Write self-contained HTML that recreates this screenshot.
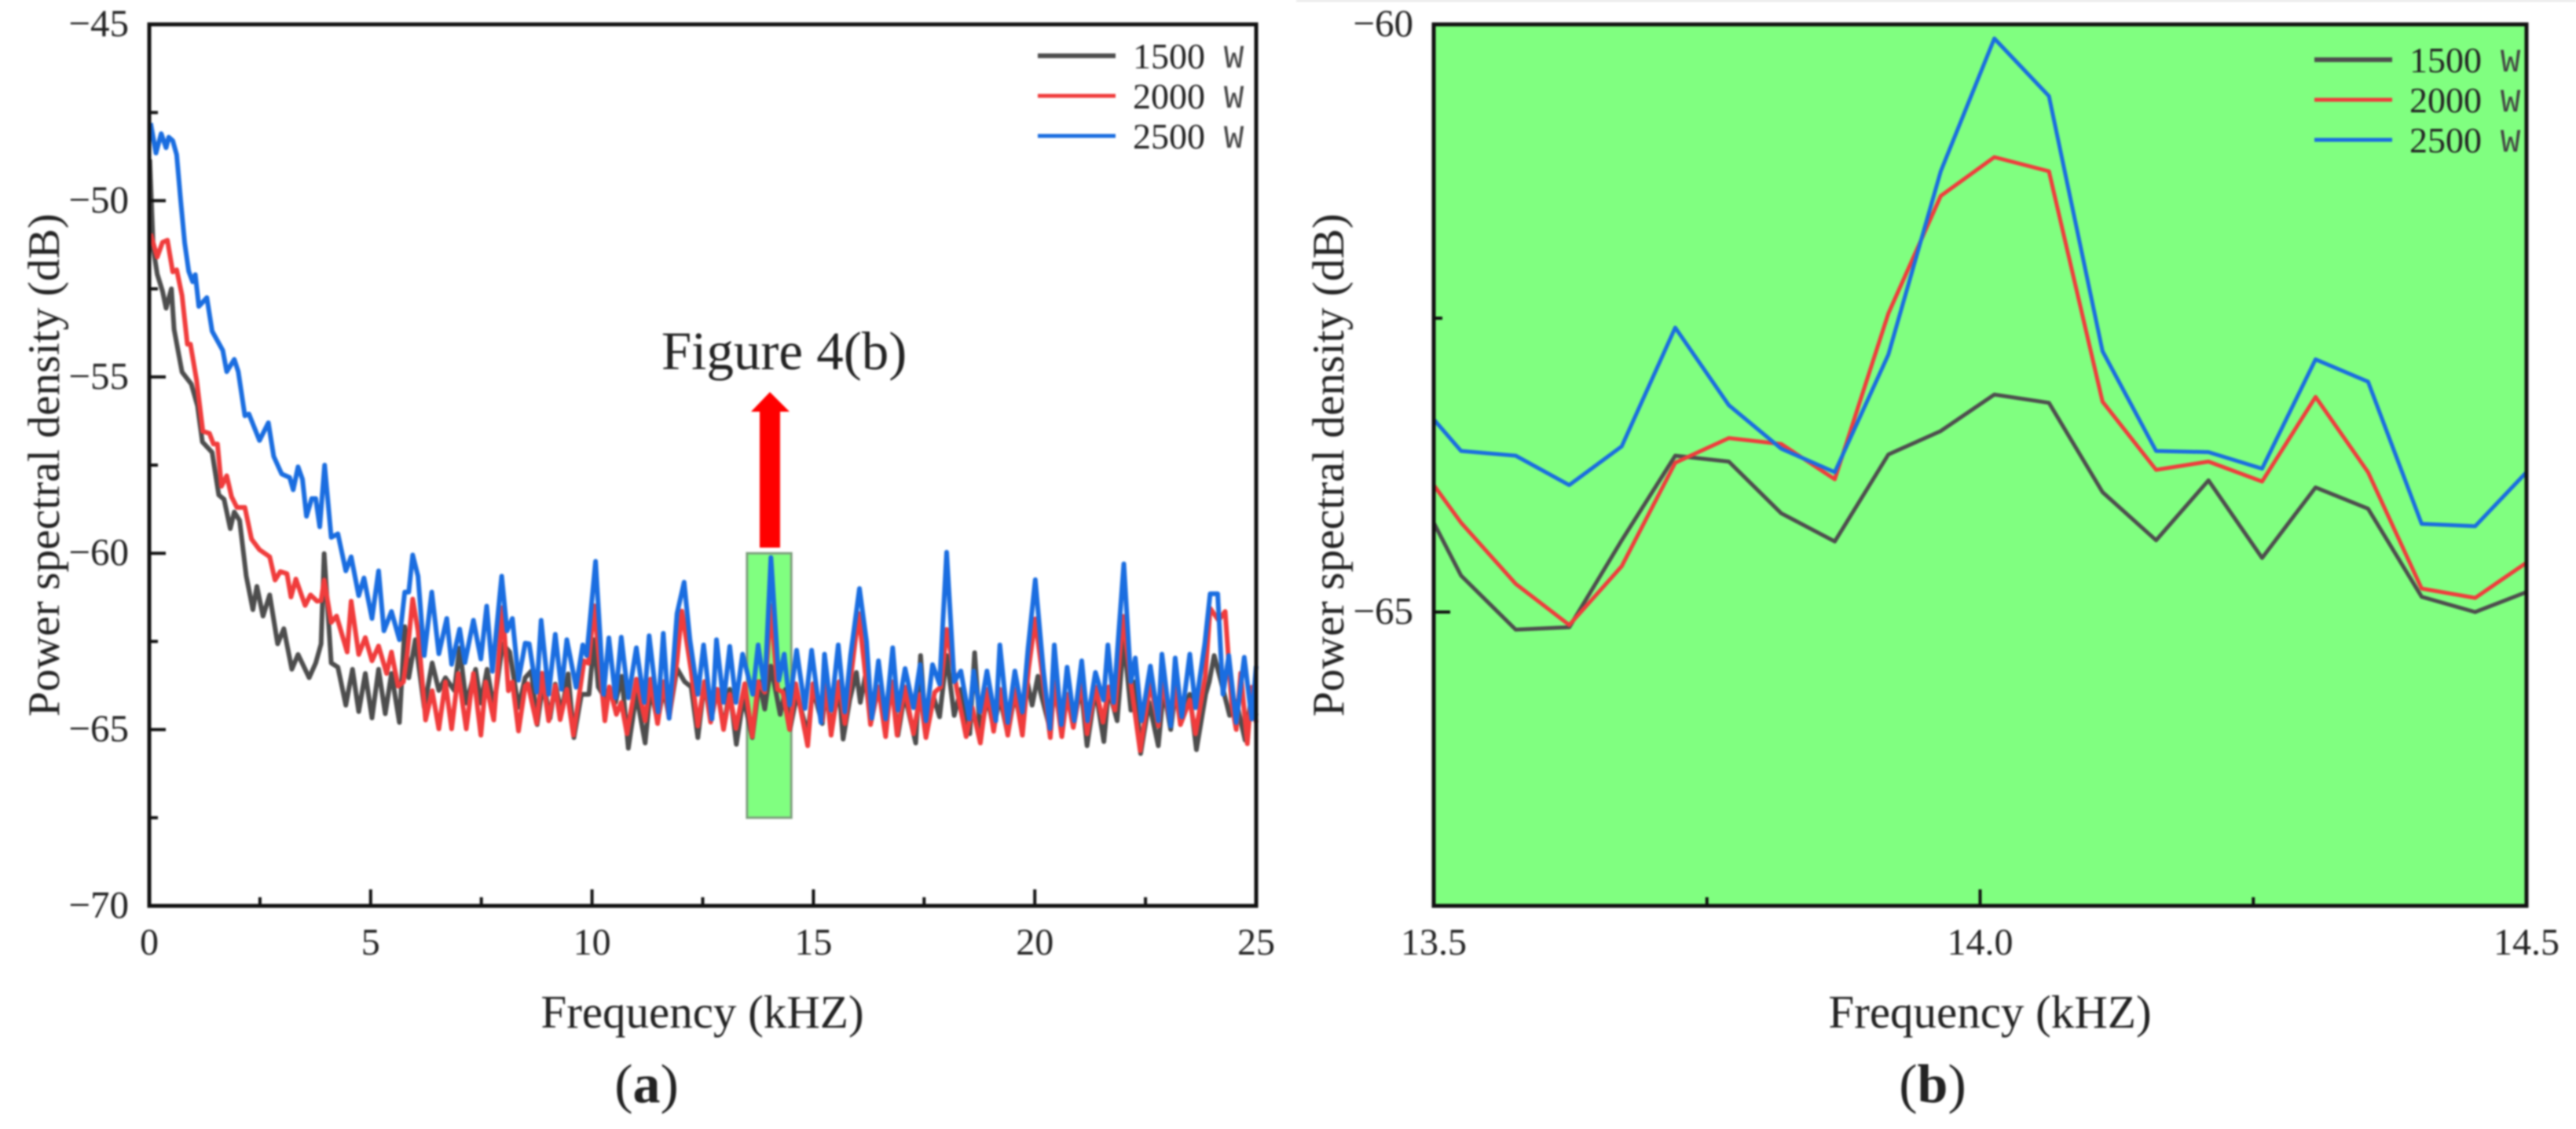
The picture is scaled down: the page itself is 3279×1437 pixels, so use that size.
<!DOCTYPE html>
<html lang="en">
<head>
<meta charset="utf-8">
<title>Power spectral density figure</title>
<style>
html,body{margin:0;padding:0;background:#fff;}
svg{display:block;filter:blur(1px);}
text{font-family:"Liberation Serif",serif;fill:#222;}
</style>
</head>
<body>
<svg id="fig" xmlns="http://www.w3.org/2000/svg" width="3279" height="1437" viewBox="0 0 3279 1437">
<rect x="0" y="0" width="3279" height="1437" fill="#fff"/>
<rect x="1650" y="0" width="1629" height="2" fill="#e2e2e2"/>
<g id="panelA"></g>
<g id="panelB"></g>
<text x="998" y="470" font-size="69" text-anchor="middle">Figure 4(b)</text>
<polygon points="980,499 1005,524 993,524 993,697 967,697 967,524 956,524" fill="#ff0000"/>
<text x="823" y="1403" font-size="70" text-anchor="middle">(<tspan font-weight="bold">a</tspan>)</text>
<text x="2460" y="1403" font-size="70" text-anchor="middle">(<tspan font-weight="bold">b</tspan>)</text>
</svg>
<script>
const freqA1500=[0.01,0.09,0.18,0.3,0.38,0.5,0.56,0.74,0.95,1.09,1.2,1.42,1.57,1.69,1.83,1.92,2.04,2.19,2.34,2.43,2.57,2.72,2.9,3.04,3.22,3.36,3.61,3.76,3.88,3.95,4.11,4.26,4.44,4.59,4.73,4.88,5.03,5.18,5.33,5.47,5.65,5.77,5.86,6.01,6.21,6.39,6.54,6.69,6.89,7.01,7.16,7.37,7.49,7.63,7.78,7.98,8.14,8.34,8.49,8.63,8.76,8.9,9.05,9.17,9.31,9.46,9.59,9.76,9.93,10.05,10.14,10.29,10.38,10.53,10.67,10.82,11.0,11.2,11.32,11.48,11.62,11.74,11.92,12.09,12.24,12.39,12.54,12.68,12.83,12.97,13.11,13.26,13.42,13.62,13.78,13.9,14.04,14.25,14.37,14.47,14.63,14.87,14.99,15.2,15.28,15.4,15.58,15.67,15.82,15.97,16.06,16.17,16.29,16.47,16.61,16.76,16.91,17.06,17.31,17.42,17.54,17.72,17.85,18.01,18.18,18.33,18.53,18.64,18.77,18.93,19.07,19.21,19.39,19.55,19.69,19.83,19.94,20.07,20.13,20.34,20.45,20.6,20.73,20.87,21.05,21.18,21.37,21.56,21.67,21.86,22.01,22.17,22.27,22.39,22.58,22.79,22.91,23.07,23.17,23.29,23.5,23.65,23.86,23.94,24.05,24.2,24.4,24.55,24.75,24.9,25];
const powerA1500=[-48.83,-51.36,-52.08,-52.57,-53.05,-52.5,-53.65,-54.86,-55.2,-55.82,-56.84,-57.14,-58.35,-58.47,-59.3,-58.83,-59.07,-60.64,-61.6,-60.94,-61.78,-61.18,-62.57,-62.14,-63.29,-62.87,-63.53,-63.11,-62.57,-60.01,-63.11,-63.23,-64.31,-63.29,-64.49,-63.41,-64.67,-63.29,-64.55,-63.41,-64.8,-62.08,-63.53,-62.45,-64.37,-63.11,-63.89,-63.53,-63.89,-62.69,-64.25,-63.29,-64.25,-63.29,-64.37,-62.57,-62.8,-64.37,-63.53,-63.34,-64.86,-63.64,-64.68,-63.71,-64.53,-63.42,-65.23,-64,-64,-62.45,-63.79,-64.1,-63.86,-64.23,-63.49,-65.53,-64,-65.38,-63.86,-64.75,-63.86,-64.64,-63.27,-63.64,-63.79,-65.23,-63.64,-64.75,-63.86,-64.97,-63.86,-65.42,-64.1,-65.23,-63.64,-64.42,-63.2,-64.57,-63.86,-65,-64,-65.12,-63.86,-64.83,-63.86,-64.97,-63.86,-65.27,-64.16,-63.38,-64.23,-63.49,-64.75,-63.86,-64.75,-63.64,-65.16,-64,-65.38,-62.9,-65.05,-64.1,-64.64,-62.9,-64.6,-63.86,-65.12,-62.82,-65.12,-64.1,-64.97,-64.1,-65.12,-64,-64.83,-63.64,-64.31,-63.49,-63.94,-64.97,-63.86,-64.83,-64,-64.75,-63.86,-65.46,-63.86,-65.34,-63.86,-64.75,-62.45,-64.45,-63.64,-65.68,-64.23,-65.46,-63.86,-65,-64,-64.6,-64,-65.57,-64,-63.64,-62.9,-63.6,-64.6,-64.2,-65.3,-64,-64.6];
const freqA2000=[0.03,0.18,0.3,0.41,0.53,0.62,0.74,0.86,0.93,1.07,1.21,1.36,1.45,1.54,1.63,1.75,1.86,1.98,2.16,2.31,2.49,2.72,2.84,2.96,3.11,3.2,3.31,3.52,3.64,3.79,3.88,3.95,4.11,4.23,4.47,4.56,4.73,4.88,5.03,5.18,5.36,5.47,5.62,5.74,5.83,5.95,6.07,6.24,6.39,6.54,6.69,6.83,6.98,7.16,7.32,7.49,7.6,7.78,7.98,8.11,8.2,8.34,8.49,8.55,8.75,8.87,9.02,9.17,9.28,9.43,9.58,9.82,9.92,10.05,10.29,10.39,10.55,10.66,10.79,11.0,11.2,11.32,11.48,11.62,11.74,11.92,12.03,12.24,12.39,12.54,12.68,12.83,12.97,13.11,13.25,13.45,13.62,13.75,13.9,14.04,14.19,14.31,14.46,14.6,14.87,14.99,15.2,15.28,15.4,15.58,15.71,15.87,16.02,16.14,16.29,16.47,16.63,16.76,16.89,17.06,17.26,17.41,17.54,17.74,17.88,18.01,18.24,18.45,18.59,18.77,18.93,19.07,19.21,19.39,19.55,19.72,19.86,20.01,20.19,20.35,20.44,20.61,20.73,20.87,21.06,21.18,21.37,21.54,21.67,21.81,21.99,22.19,22.38,22.61,22.79,22.88,23.07,23.17,23.29,23.5,23.63,23.85,23.96,24.15,24.3,24.45,24.55,24.65,24.8,24.9,25];
const powerA2000=[-50.94,-51.6,-51.18,-51.12,-52.02,-51.96,-52.69,-54.07,-54.07,-55.1,-56.54,-56.6,-56.9,-56.9,-58.1,-57.8,-58.4,-58.7,-58.7,-59.6,-59.9,-60.1,-60.76,-60.52,-60.58,-61.24,-60.73,-61.48,-61.18,-61.36,-61.34,-60.76,-61.96,-61.78,-62.8,-61.36,-62.87,-62.39,-63.05,-62.63,-63.41,-62.8,-63.77,-63.65,-62.8,-61.3,-62.2,-64.73,-63.9,-64.98,-63.65,-64.98,-63.41,-64.98,-63.41,-65.16,-63.65,-64.73,-61.54,-63.9,-63.65,-65.04,-63.77,-63.7,-64.83,-63.4,-64.75,-63.75,-64.72,-63.86,-65.16,-63.05,-63.12,-61.49,-64.75,-63.79,-64.57,-64.23,-65.12,-63.57,-64.75,-63.57,-64.83,-63.64,-64.68,-63.05,-61.64,-63.34,-64.9,-63.64,-64.79,-63.86,-65,-64,-64.97,-63.7,-65.2,-63.64,-63.94,-61.49,-63.86,-63.94,-65,-63.7,-65.46,-63.7,-64.75,-63.64,-65.16,-63.64,-64.83,-63.27,-61.71,-63.05,-64.86,-63.79,-65.2,-63.64,-65.16,-63.79,-65.12,-64,-65.23,-63.94,-63.79,-62.16,-63.86,-65.2,-64.38,-65.38,-63.86,-65.05,-63.86,-65.16,-63.86,-65.16,-63.27,-61.86,-63.64,-65.23,-63.64,-65.2,-64,-64.94,-63.64,-65.12,-63.79,-64.79,-63.79,-64.45,-61.79,-63.86,-65.6,-63.64,-64.9,-63.64,-64.83,-63.79,-64.86,-64.16,-65.12,-63.49,-61.56,-61.9,-61.65,-64.3,-65,-63.4,-65.4,-63.8,-64.8];
const freqA2500=[0.03,0.15,0.27,0.38,0.44,0.53,0.62,0.71,0.8,0.89,0.98,1.04,1.12,1.3,1.42,1.66,1.75,1.92,2.01,2.16,2.25,2.49,2.69,2.81,2.99,3.17,3.25,3.36,3.46,3.55,3.67,3.76,3.85,3.96,4.11,4.26,4.44,4.56,4.73,4.85,5.03,5.18,5.3,5.47,5.65,5.77,5.86,5.95,6.07,6.21,6.38,6.54,6.72,6.83,7.01,7.13,7.32,7.49,7.62,7.75,7.96,8.08,8.2,8.34,8.49,8.58,8.75,8.85,9.02,9.17,9.31,9.43,9.64,9.79,9.88,10.08,10.26,10.38,10.53,10.66,10.82,11.0,11.18,11.29,11.49,11.61,11.74,11.92,12.08,12.21,12.39,12.52,12.71,12.81,12.97,13.11,13.25,13.4,13.63,13.75,13.9,14.04,14.22,14.34,14.46,14.62,14.81,14.96,15.17,15.25,15.4,15.56,15.71,15.84,16.04,16.2,16.32,16.47,16.63,16.79,16.91,17.07,17.26,17.41,17.54,17.69,17.85,18.01,18.18,18.33,18.52,18.62,18.76,18.92,19.12,19.21,19.39,19.55,19.72,19.85,20.01,20.19,20.34,20.44,20.6,20.73,20.89,21.06,21.19,21.37,21.55,21.65,21.78,22.01,22.17,22.27,22.41,22.61,22.79,22.87,23.07,23.17,23.32,23.5,23.63,23.84,23.96,24.13,24.25,24.38,24.55,24.73,24.9,25];
const powerA2500=[-47.8,-48.65,-48.1,-48.5,-48.2,-48.3,-48.7,-50,-51.2,-52,-52.3,-52.1,-53,-52.75,-53.7,-54.25,-54.85,-54.5,-54.85,-56.1,-56.05,-56.8,-56.3,-57.25,-57.75,-57.85,-58.2,-57.55,-57.9,-58.95,-58.45,-58.45,-59.25,-57.5,-59.55,-59.45,-60.5,-60.1,-61.2,-60.7,-61.85,-60.5,-62.2,-61.65,-62.45,-61.1,-61.1,-60.05,-60.65,-62.9,-61.1,-62.85,-61.85,-63.15,-62.15,-63.1,-61.9,-63,-61.5,-63.35,-60.65,-62.2,-61.85,-63.6,-62.55,-62.57,-63.94,-61.9,-64,-62.3,-63.86,-62.45,-63.8,-62.6,-62.9,-60.23,-64,-62.4,-64.1,-62.38,-64.1,-62.68,-64.23,-62.34,-64.5,-62.27,-64.68,-61.71,-60.82,-62.45,-64,-62.6,-64.7,-62.45,-64.23,-62.64,-64.23,-62.86,-64,-62.6,-63.86,-60.12,-63.6,-62.86,-64.3,-62.75,-64.4,-62.75,-64.8,-62.86,-64.45,-62.6,-64.5,-62.9,-61,-62.5,-64.68,-63.05,-64.7,-62.68,-64.45,-63.27,-64.38,-63.16,-64.75,-63.16,-63.71,-59.97,-63.64,-63.34,-64.7,-63.34,-64.5,-63.34,-64.75,-62.6,-64.8,-63.34,-64.5,-62.68,-60.75,-63.27,-64.97,-62.6,-64.86,-63.23,-64.75,-63.05,-64.75,-63.38,-64.16,-62.6,-64.23,-60.3,-63.64,-62.97,-64.75,-63.2,-64.75,-62.86,-64.9,-62.97,-64.64,-62.86,-64.38,-62.56,-61.15,-61.15,-64,-62.9,-64.8,-62.95,-64.7,-63.2];
const freqB=[13.5,13.525,13.575,13.624,13.672,13.721,13.77,13.818,13.867,13.916,13.964,14.013,14.063,14.112,14.161,14.209,14.258,14.307,14.355,14.404,14.453,14.5];
const powerB1500=[-64.24,-64.69,-65.15,-65.13,-64.39,-63.67,-63.72,-64.16,-64.4,-63.66,-63.46,-63.15,-63.22,-63.98,-64.39,-63.88,-64.54,-63.94,-64.12,-64.87,-65,-64.83];
const powerB2000=[-63.92,-64.24,-64.76,-65.11,-64.61,-63.73,-63.52,-63.57,-63.87,-62.46,-61.46,-61.13,-61.25,-63.21,-63.79,-63.72,-63.89,-63.17,-63.81,-64.8,-64.88,-64.58];
const powerB2500=[-63.36,-63.63,-63.67,-63.92,-63.59,-62.58,-63.24,-63.61,-63.81,-62.81,-61.25,-60.12,-60.61,-62.78,-63.63,-63.64,-63.78,-62.85,-63.04,-64.25,-64.27,-63.81];
const legendLabels=["1500","2000","2500"];
const seriesColors=["#4d4d4d","#f03c3c","#1a6de0"];
const xTicksA=[0,5,10,15,20,25];
const xMinorA=[2.5,7.5,12.5,17.5,22.5];
const yTicksA=[-45,-50,-55,-60,-65,-70];
const yMinorA=[-47.5,-52.5,-57.5,-62.5,-67.5];
const xTicksB=[13.5,14,14.5];
const xMinorB=[13.75,14.25];
const yTicksB=[-60,-65];
const yMinorB=[-62.5,-67.5];
const boxRange=[13.5,14.5,-60,-67.5];

const NS="http://www.w3.org/2000/svg";
function mk(parent,tag,attrs,txt){
  const el=document.createElementNS(NS,tag);
  for(const k in attrs){el.setAttribute(k,attrs[k]);}
  if(txt!==undefined){el.textContent=txt;}
  parent.appendChild(el);
  return el;
}
function scale(d0,d1,r0,r1){return v=>r0+(v-d0)*(r1-r0)/(d1-d0);}
function minus(v){return v<0?"\u2212"+Math.abs(v):String(v);}

function drawPanel(cfg){
  const g=cfg.group,x=cfg.x,y=cfg.y;
  const L=cfg.left,R=cfg.right,T=cfg.top,B=cfg.bottom;
  const bg=mk(g,"rect",{x:L,y:T,width:R-L,height:B-T,fill:cfg.bg});
  
  
  if(cfg.box){
    const bx=mk(g,"rect",{x:x(boxRange[0]),y:y(boxRange[2]),width:x(boxRange[1])-x(boxRange[0]),height:y(boxRange[3])-y(boxRange[2]),fill:"#80ff80",stroke:"#7fa07f","stroke-width":3});
    
    
  }
  cfg.series.forEach((s,i)=>{
    const pts=s.f.map((f,j)=>x(f).toFixed(1)+","+y(s.p[j]).toFixed(1)).join(" ");
    const ln=mk(g,"polyline",{points:pts,fill:"none",stroke:seriesColors[i],"stroke-width":cfg.lw,"stroke-linejoin":"round"});
    
    
  });
  const frame=mk(g,"rect",{x:L,y:T,width:R-L,height:B-T,fill:"none",stroke:"#111","stroke-width":5});
  
  
  cfg.xMajor.forEach(v=>{
    const t=mk(g,"line",{x1:x(v),x2:x(v),y1:B,y2:B-21,stroke:"#111","stroke-width":4});
    
    
    const lb=mk(g,"text",{x:x(v),y:cfg.xLabelY,"font-size":48,"text-anchor":"middle"},cfg.fmtX(v));
    
    
  });
  cfg.xMinor.forEach(v=>{
    const t=mk(g,"line",{x1:x(v),x2:x(v),y1:B,y2:B-11,stroke:"#111","stroke-width":4});
    
    
  });
  cfg.yMajor.forEach(v=>{
    const t=mk(g,"line",{x1:L,x2:L+21,y1:y(v),y2:y(v),stroke:"#111","stroke-width":4});
    
    
    const lb=mk(g,"text",{x:L-26,y:y(v)+15,"font-size":49,"text-anchor":"end"},minus(v));
    
    
  });
  cfg.yMinor.forEach(v=>{
    const t=mk(g,"line",{x1:L,x2:L+11,y1:y(v),y2:y(v),stroke:"#111","stroke-width":4});
    
    
  });
  const xt=mk(g,"text",{x:cfg.xTitleX,y:1308,"font-size":59,"text-anchor":"middle"},"Frequency (kHZ)");
  
  
  const yt=mk(g,"text",{x:0,y:0,"font-size":57.5,"text-anchor":"middle",transform:"translate("+cfg.yTitleX+",592) rotate(-90)"},"Power spectral density (dB)");
  
  
  legendLabels.forEach((lab,i)=>{
    const ry=cfg.legY+i*cfg.legGap;
    const ll=mk(g,"line",{x1:cfg.legX,x2:cfg.legX+99,y1:ry,y2:ry,stroke:seriesColors[i],"stroke-width":i===0?6:5});
    
    
    const tx=mk(g,"text",{x:cfg.legX+121,y:ry+16,"font-size":46,fill:"#444"},lab);
    
    
    const w=mk(g,"text",{x:cfg.legX+237,y:ry+15,"font-size":42,style:"font-family:'Liberation Mono',monospace;fill:#444"},"W");
    
    
  });
}

drawPanel({
  group:document.getElementById("panelA"),
  left:190,right:1599,top:31,bottom:1153,bg:"#fff",box:true,lw:6,
  x:scale(0,25,190,1599),y:scale(-45,-70,31,1153),
  series:[{f:freqA1500,p:powerA1500},{f:freqA2000,p:powerA2000},{f:freqA2500,p:powerA2500}],
  xMajor:xTicksA,xMinor:xMinorA,yMajor:yTicksA,yMinor:yMinorA,
  fmtX:v=>String(v),xLabelY:1215,xTitleX:894,yTitleX:75,
  legX:1321,legY:71,legGap:51
});
drawPanel({
  group:document.getElementById("panelB"),
  left:1825,right:3216,top:31,bottom:1153,bg:"#80ff80",box:false,lw:5,
  x:scale(13.5,14.5,1825,3216),y:scale(-60,-67.5,31,1153),
  series:[{f:freqB,p:powerB1500},{f:freqB,p:powerB2000},{f:freqB,p:powerB2500}],
  xMajor:xTicksB,xMinor:xMinorB,yMajor:yTicksB,yMinor:yMinorB,
  fmtX:v=>v.toFixed(1),xLabelY:1215,xTitleX:2533,yTitleX:1710,
  legX:2946,legY:76,legGap:51
});
</script>
</body>
</html>
